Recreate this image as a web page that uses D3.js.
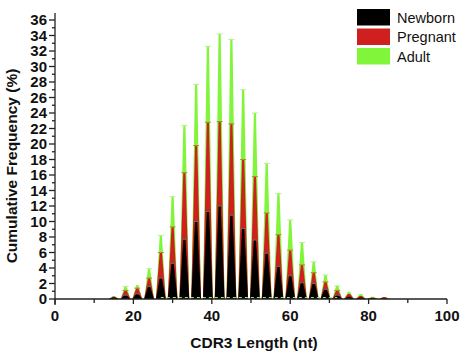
<!DOCTYPE html>
<html>
<head>
<meta charset="utf-8">
<script src="https://cdn.jsdelivr.net/npm/d3@7"></script>
<style>
  html, body { margin: 0; padding: 0; background: #fff; }
  svg { display: block; }
  text { font-family: "Liberation Sans", Arial, sans-serif; }
</style>
</head>
<body>
<svg id="chart" width="467" height="358"></svg>
<script>
// ---- data ----
const lengths  = [15, 18, 21, 24, 27, 30, 33, 36, 39, 42, 45, 48, 51, 54, 57, 60, 63, 66, 69, 72, 75, 78, 81, 84];
// individual contributions of each group (stacked to give cumulative frequency)
const newborn  = [0.2, 0.5, 0.65, 1.6, 2.7, 4.6, 7.7, 10.0, 11.3, 12.0, 10.8, 9.1, 7.6, 5.9, 4.2, 3.0, 2.1, 2.0, 1.25, 0.5, 0.3, 0.2, 0.1, 0.05];
const pregnant = [0.1, 0.6, 0.75, 1.1, 3.3, 4.7, 8.6, 9.8, 11.5, 10.9, 11.8, 8.9, 8.2, 5.2, 4.1, 3.3, 2.3, 1.4, 0.95, 0.6, 0.35, 0.2, 0.1, 0.2];
const adult    = [0.1, 0.5, 0.4, 1.2, 2.2, 3.9, 6.1, 7.9, 9.8, 11.3, 10.9, 9.0, 8.2, 6.4, 5.3, 3.9, 2.9, 1.4, 0.9, 0.6, 0.3, 0.25, 0.1, 0.0];
const seriesNames  = ["Newborn", "Pregnant", "Adult"];
const seriesColors = ["#000000", "#d01f1f", "#80f53a"];
const capColors    = ["#6a6a6a", "#b88a2a", "#b6f08a"];
const xTicks = [0, 20, 40, 60, 80, 100];
const yTicks = d3.range(0, 37, 2);

// ---- layout ----
const svg = d3.select("#chart");
const x = d3.scaleLinear().domain([0, 100]).range([55, 447]);
const y = d3.scaleLinear().domain([0, 36]).range([299, 20]);

const rows = lengths.map((L, i) => ({ L, Newborn: newborn[i], Pregnant: pregnant[i], Adult: adult[i] }));
const stack = d3.stack().keys(seriesNames)(rows);

const hw = 1.25;  // half base width of each spike (nt)
const tw = 0.28;  // half top width of each spike (nt)

// draw from the top layer down so lower groups sit in front
for (let k = stack.length - 1; k >= 0; k--) {
  const layer = stack[k];
  const g = svg.append("g");
  g.selectAll("path").data(layer).enter().append("path")
    .attr("d", d => {
      const L = d.data.L, top = d[1];
      const pts = [[L - hw, 0], [L - tw, top], [L + tw, top], [L + hw, 0]];
      return d3.area().x(p => x(p[0])).y0(y(0)).y1(p => y(p[1]))(pts);
    })
    .attr("fill", seriesColors[k]);
}
// small caps at segment tops
for (let k = 0; k < stack.length; k++) {
  svg.append("g").selectAll("line").data(stack[k].filter(d => d[1] - d[0] > 0.4)).enter().append("line")
    .attr("x1", d => x(d.data.L) - 3).attr("x2", d => x(d.data.L) + 3)
    .attr("y1", d => y(d[1])).attr("y2", d => y(d[1]))
    .attr("stroke", capColors[k]).attr("stroke-width", 1);
}
// faint green line along the baseline where adult values are present
svg.append("line").attr("x1", x(lengths[4])).attr("x2", x(lengths[19]))
  .attr("y1", y(0) - 1.5).attr("y2", y(0) - 1.5)
  .attr("stroke", "#9be86a").attr("stroke-width", 1).attr("stroke-dasharray", "3,3");

// ---- axes ----
const axisG = svg.append("g").attr("stroke", "#222").attr("stroke-width", 1.3);
axisG.append("line").attr("x1", x(0)).attr("x2", x(0)).attr("y1", y(0) + 6).attr("y2", y(36.9));
axisG.append("line").attr("x1", x(0)).attr("x2", x(100)).attr("y1", y(0)).attr("y2", y(0));

axisG.selectAll(".ym").data(yTicks).enter().append("line")
  .attr("x1", x(0) - 6).attr("x2", x(0)).attr("y1", d => y(d)).attr("y2", d => y(d));
axisG.selectAll(".yn").data(d3.range(1, 37, 2)).enter().append("line")
  .attr("x1", x(0) - 3).attr("x2", x(0)).attr("y1", d => y(d)).attr("y2", d => y(d));
svg.selectAll(".yl").data(yTicks).enter().append("text")
  .attr("x", x(0) - 8).attr("y", d => y(d)).attr("dy", "0.36em")
  .attr("text-anchor", "end").attr("font-size", 15).attr("font-weight", "bold")
  .attr("fill", "#111").text(d => d);

axisG.selectAll(".xm").data(xTicks).enter().append("line")
  .attr("x1", d => x(d)).attr("x2", d => x(d)).attr("y1", y(0)).attr("y2", y(0) + 5);
axisG.selectAll(".xn").data([10, 30, 50, 70, 90]).enter().append("line")
  .attr("x1", d => x(d)).attr("x2", d => x(d)).attr("y1", y(0)).attr("y2", y(0) + 4);
svg.selectAll(".xl").data(xTicks).enter().append("text")
  .attr("x", d => x(d)).attr("y", 321)
  .attr("text-anchor", "middle").attr("font-size", 15).attr("font-weight", "bold")
  .attr("fill", "#111").text(d => d);

// axis titles
svg.append("text").attr("x", 254).attr("y", 348).attr("text-anchor", "middle")
  .attr("font-size", 15.5).attr("font-weight", "bold").attr("fill", "#111")
  .text("CDR3 Length (nt)");
svg.append("text").attr("transform", "translate(17,166) rotate(-90)").attr("text-anchor", "middle")
  .attr("font-size", 15.5).attr("font-weight", "bold").attr("fill", "#111")
  .text("Cumulative Frequency (%)");

// ---- legend ----
const leg = svg.append("g");
seriesNames.forEach((name, i) => {
  const y0 = 9 + i * 19.5;
  leg.append("rect").attr("x", 357).attr("y", y0).attr("width", 33).attr("height", 16.5)
    .attr("fill", seriesColors[i]);
  leg.append("text").attr("x", 397).attr("y", y0 + 8.5).attr("dy", "0.36em")
    .attr("font-size", 14.5).attr("fill", "#111").text(name);
});
</script>
</body>
</html>
